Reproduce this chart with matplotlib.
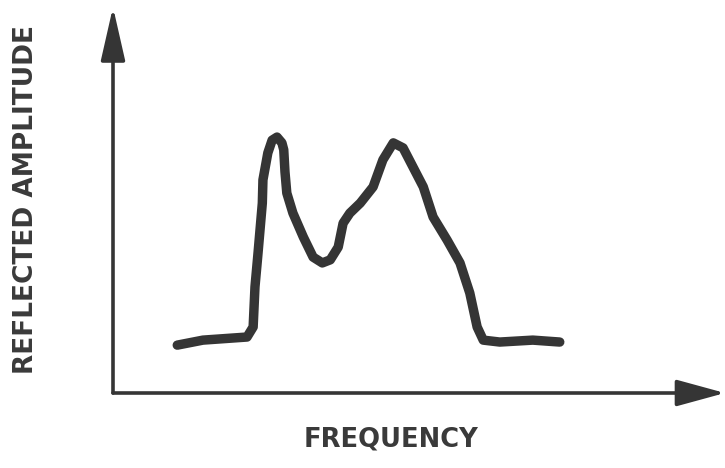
import matplotlib
matplotlib.use("Agg")
import matplotlib.pyplot as plt

# Hand-drawn reflected amplitude spectrum (arbitrary units, 0-100)
frequency = [10.5, 14.7, 21.9, 22.9, 23.2, 23.7, 24.4, 24.5, 25.3, 26.0, 26.8,
             27.6, 27.9, 28.1, 28.4, 29.4, 31.1, 32.7, 34.2, 35.5, 36.8, 37.6,
             38.7, 40.4, 42.5, 44.1, 45.8, 47.4, 49.0, 50.7, 52.3, 54.6, 56.7,
             58.3, 59.5, 60.5, 63.2, 68.6, 73.0]
amplitude = [12.4, 13.7, 14.5, 17.1, 27.5, 36.3, 49.2, 55.2, 62.2, 65.5, 66.3,
             64.8, 63.0, 57.3, 51.8, 46.6, 40.4, 35.2, 33.7, 34.5, 37.8, 44.0,
             46.6, 49.2, 53.4, 60.4, 64.8, 63.5, 58.6, 53.4, 45.6, 39.6, 33.7,
             25.9, 17.1, 13.7, 13.2, 13.7, 13.2]

x_label = "FREQUENCY"
y_label = "REFLECTED AMPLITUDE"

W, H = 725, 468
fig = plt.figure(figsize=(W / 100, H / 100), dpi=100)
fig.patch.set_facecolor("white")

left, bottom = 113 / W, (H - 393) / H
ax = fig.add_axes([left, bottom, (W - 113) / W, (393 - 7) / H])
ax.set_xlim(0, 100)
ax.set_ylim(0, 100)
ax.axis("off")

ink = "#353535"
ax.plot(frequency, amplitude, color=ink, lw=6.8, solid_capstyle="round",
        solid_joinstyle="round")

# axes with arrow heads
ax.annotate("", xy=(0, 1), xytext=(0, 0), xycoords="axes fraction",
            arrowprops=dict(arrowstyle="-|>,head_length=3.3,head_width=0.75",
                            mutation_scale=10, color=ink, lw=2.6,
                            shrinkA=0, shrinkB=0))
ax.annotate("", xy=(1, 0), xytext=(0, 0), xycoords="axes fraction",
            arrowprops=dict(arrowstyle="-|>,head_length=3.0,head_width=0.82",
                            mutation_scale=10, color=ink, lw=2.6,
                            shrinkA=0, shrinkB=0))

fig.text(391 / W, 1 - 440 / H, x_label, ha="center", va="center",
         fontsize=18.5, fontweight="bold", color="#3a3a3a",
         family="DejaVu Sans")
fig.text(26 / W, 1 - 200 / H, y_label, ha="center", va="center",
         rotation=90, fontsize=19, fontweight="bold", color="#3a3a3a",
         family="DejaVu Sans")

fig.savefig("out.png", dpi=100, facecolor="white")
